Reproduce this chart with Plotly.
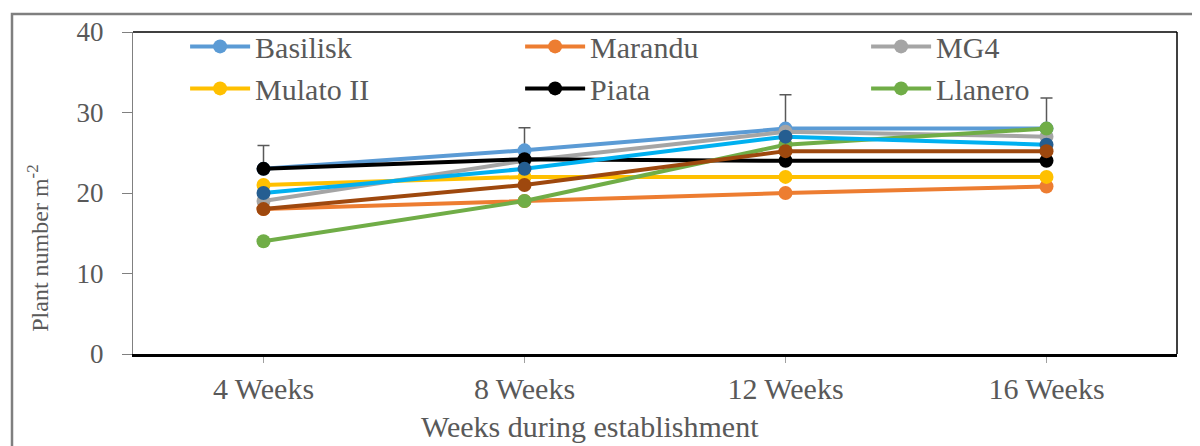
import plotly.graph_objects as go

weeks = ["4 Weeks", "8 Weeks", "12 Weeks", "16 Weeks"]

basilisk = [23, 25.3, 28, 28]
marandu = [18, 19, 20, 20.8]
mg4 = [19, 24, 27.6, 27]
mulato = [21, 22, 22, 22]
piata = [23, 24.2, 24, 24]
llanero = [14, 19, 26, 28]
extra_cyan = [20, 23, 27, 26]
extra_brown = [18, 21, 25.2, 25.2]

basilisk_err = [2.9, 2.8, 4.2, 3.8]

# name, values, line colour, marker colour, legend column (None = hidden)
series = [
    ("Basilisk", basilisk, "#5B9BD5", "#5B9BD5", "legend"),
    ("Marandu", marandu, "#ED7D31", "#ED7D31", "legend2"),
    ("MG4", mg4, "#A5A5A5", "#A5A5A5", "legend3"),
    ("Mulato II", mulato, "#FFC000", "#FFC000", "legend"),
    ("Piata", piata, "#000000", "#000000", "legend2"),
    ("Llanero", llanero, "#70AD47", "#70AD47", "legend3"),
    ("Series 7", extra_cyan, "#00B0F0", "#255E91", None),
    ("Series 8", extra_brown, "#9E480E", "#9E480E", None),
]

FONT = "Liberation Serif"
GREY = "#595959"

fig = go.Figure()
for name, vals, lcol, mcol, leg in series:
    err = None
    if name == "Basilisk":
        err = dict(type="data", symmetric=False, array=basilisk_err,
                   arrayminus=[0, 0, 0, 0], color=GREY, thickness=1.5, width=6)
    fig.add_trace(go.Scatter(
        x=weeks,
        y=vals,
        mode="lines+markers",
        name=name,
        line=dict(color=lcol, width=4),
        marker=dict(size=14, color=mcol),
        error_y=err,
        showlegend=leg is not None,
        legend=leg or "legend",
    ))

# frame around the whole picture, and top/right plot border
fig.add_shape(type="rect", xref="paper", yref="paper", x0=-0.1159, y0=-0.5,
              x1=1.2, y1=1.0557, line=dict(color="#7F7F7F", width=2.5))
fig.add_shape(type="line", xref="paper", yref="paper", x0=0, y0=1, x1=1, y1=1,
              line=dict(color="#000000", width=1.5))
fig.add_shape(type="line", xref="paper", yref="paper", x0=1, y0=0, x1=1, y1=1,
              line=dict(color="#000000", width=1.5))

# axis titles sit centred on the chart area, not the plot area
fig.add_annotation(text="Weeks during establishment", xref="paper", yref="paper",
                   x=0.4377, y=-0.226, xanchor="center", yanchor="middle",
                   showarrow=False, font=dict(family=FONT, size=30, color=GREY))
fig.add_annotation(text="Plant number m<sup>-2</sup>", xref="paper", yref="paper",
                   x=-0.091, y=0.33, xanchor="center", yanchor="middle",
                   textangle=-90, showarrow=False,
                   font=dict(family=FONT, size=24, color=GREY))


def legend_col(x):
    return dict(
        orientation="v",
        x=x, y=1.036, xanchor="left", yanchor="top",
        itemwidth=60,
        font=dict(family=FONT, size=30, color=GREY),
        bgcolor="rgba(0,0,0,0)",
    )


fig.update_layout(
    width=1200,
    height=446,
    margin=dict(l=125, r=31, t=24, b=100),
    paper_bgcolor="white",
    plot_bgcolor="white",
    font=dict(family=FONT, size=30, color=GREY),
    legend=legend_col(0.0499),
    legend2=legend_col(0.3708),
    legend3=legend_col(0.7022),
    xaxis=dict(
        type="category",
        range=[-0.5, 3.5],
        automargin=False,
        showline=True, linecolor="#000000", linewidth=3,
        ticks="outside", ticklen=6, tickcolor="#A0A0A0",
        showgrid=False, zeroline=False,
        tickfont=dict(family=FONT, size=30, color=GREY),
    ),
    yaxis=dict(
        range=[0, 40], dtick=10,
        automargin=False,
        showline=True, linecolor="#808080", linewidth=1,
        ticks="outside", ticklen=10, tickcolor="#808080",
        showgrid=False, zeroline=False,
        ticklabelstandoff=13,
        tickfont=dict(family=FONT, size=27, color=GREY),
    ),
)

fig.write_html("out.html")
